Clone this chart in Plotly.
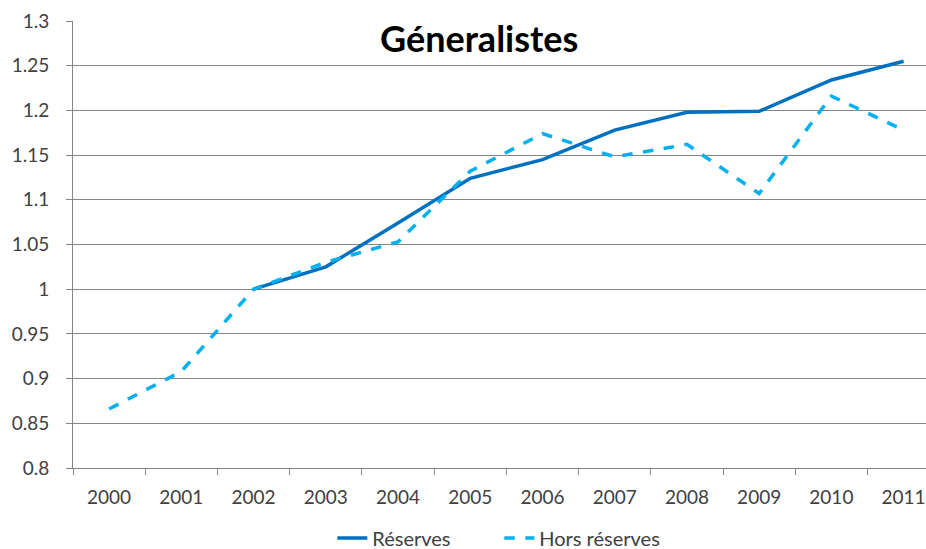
import plotly.graph_objects as go

years = ["2000", "2001", "2002", "2003", "2004", "2005", "2006", "2007", "2008", "2009", "2010", "2011"]
reserves = [None, None, 1.000, 1.025, 1.074, 1.124, 1.145, 1.178, 1.198, 1.199, 1.234, 1.255]
hors_reserves = [0.866, 0.908, 1.000, 1.030, 1.053, 1.132, 1.174, 1.148, 1.162, 1.107, 1.216, 1.178]
y_ticks = [0.8, 0.85, 0.9, 0.95, 1, 1.05, 1.1, 1.15, 1.2, 1.25, 1.3]
y_tick_labels = ["0.8", "0.85", "0.9", "0.95", "1", "1.05", "1.1", "1.15", "1.2", "1.25", "1.3"]

FONT = "Lato"
fig = go.Figure()
fig.add_trace(go.Scatter(x=years, y=reserves, mode="lines", name="Réserves",
                         line=dict(color="#0070C0", width=3.5), connectgaps=False))
fig.add_trace(go.Scatter(x=years, y=hors_reserves, mode="lines", name="Hors réserves",
                         line=dict(color="#00B0F0", width=3.5, dash="dash")))

fig.update_layout(
    width=926, height=549,
    margin=dict(l=73, r=0, t=21, b=81),
    paper_bgcolor="white", plot_bgcolor="white",
    font=dict(family=FONT, size=19, color="#404040"),
    showlegend=True,
    legend=dict(orientation="h", x=0.304, xanchor="left", yref="container", y=0.020, yanchor="middle",
                font=dict(size=20, color="#404040"), entrywidth=122, entrywidthmode="pixels"),
    xaxis=dict(type="category", range=[-0.5, 11.31], showgrid=False, automargin=False,
               showline=True, linecolor="#868686", linewidth=1,
               ticks="outside", tickson="boundaries", ticklen=6, tickcolor="#868686",
               ticklabelstandoff=12,
               tickfont=dict(size=19, color="#404040")),
    yaxis=dict(range=[0.8, 1.3], tickvals=y_ticks, ticktext=y_tick_labels, automargin=False,
               showgrid=True, gridcolor="#868686", gridwidth=1,
               showline=True, linecolor="#868686", linewidth=1,
               ticks="outside", ticklen=6, tickcolor="#868686",
               ticklabelstandoff=13,
               tickfont=dict(size=19, color="#404040"), zeroline=False),
    annotations=[dict(text="<b>Géneralistes</b>", x=0.476, y=0.962, xref="paper", yref="paper",
                      xanchor="center", yanchor="middle", showarrow=False,
                      font=dict(size=36, color="black", family=FONT))],
)

# remove the default page margin so the 926x549 figure fills the window exactly
post = ("document.body.style.margin='0';"
        "document.body.style.overflow='hidden';"
        "document.documentElement.style.overflow='hidden';")
fig.write_html("out.html", post_script=post, config={"displayModeBar": False})
